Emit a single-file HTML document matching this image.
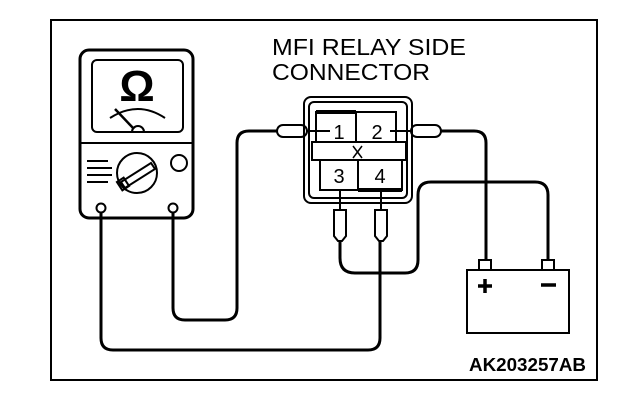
<!DOCTYPE html>
<html><head><meta charset="utf-8"><style>html,body{margin:0;padding:0;background:#fff}svg{display:block}</style></head>
<body>
<svg width="624" height="410" viewBox="0 0 624 410" xmlns="http://www.w3.org/2000/svg" font-family="Liberation Sans, sans-serif">
<rect x="51" y="20" width="546" height="360" fill="none" stroke="#000" stroke-width="2"/>
<text x="272" y="55" font-size="23" textLength="194" lengthAdjust="spacingAndGlyphs">MFI RELAY SIDE</text>
<text x="272" y="80" font-size="23" textLength="158" lengthAdjust="spacingAndGlyphs">CONNECTOR</text>
<text x="469" y="371" font-size="18" font-weight="bold" textLength="117" lengthAdjust="spacingAndGlyphs">AK203257AB</text>

<g fill="none" stroke="#000" stroke-width="3">
<!-- wires -->
<path d="M101,213 V338 Q101,350 113,350 H368 Q380,350 380,338 V240"/>
<path d="M173,213 V308 Q173,320 185,320 H225 Q237,320 237,308 V143 Q237,131 249,131 H277"/>
<path d="M441,131 H474 Q486,131 486,143 V260"/>
<path d="M340,240 V258 Q340,273 355,273 H405 Q418,273 418,260 V195 Q418,182 431,182 H535 Q548,182 548,195 V260"/>
<!-- meter -->
<rect x="80" y="50" width="113" height="168" rx="9"/>
</g>
<g fill="none" stroke="#000" stroke-width="2">
<rect x="92" y="60" width="91" height="72" rx="5"/>
<line x1="80" y1="143" x2="193" y2="143"/>
<path d="M110,118 Q138,100 165,118"/>
<line x1="115" y1="109" x2="134" y2="129" stroke-width="2.5"/>
<path d="M132,132 A6,6 0 0 1 144,132"/>
<circle cx="137" cy="173" r="20"/>
<circle cx="179" cy="163" r="8"/>
<circle cx="101" cy="208" r="4.5"/>
<circle cx="173" cy="208" r="4.5"/>
<path d="M87,161 H108 M87,168 H112 M87,175 H112 M87,182 H108"/>
<path d="M121,182 L151,163 L155,169 L125,188 Z"/>
<rect x="119" y="179" width="8" height="10" transform="rotate(-33 123 184)"/>
</g>
<text x="137" y="101" font-size="44" font-weight="bold" text-anchor="middle">Ω</text>

<!-- connector -->
<g fill="none" stroke="#000" stroke-width="2">
<rect x="304" y="97" width="108" height="106" rx="7"/>
<rect x="309" y="102" width="98" height="96" rx="5"/>
<rect x="316" y="112" width="80" height="30"/>
<line x1="356" y1="112" x2="356" y2="142"/>
<rect x="312" y="142" width="94" height="18"/>
<rect x="320" y="160" width="82" height="30"/>
<line x1="358" y1="160" x2="358" y2="190"/>
<path d="M353,146 L362,158 M362,146 L353,158" stroke-width="1.5"/>
<rect x="277" y="125" width="30" height="12" rx="6"/>
<rect x="411" y="125" width="30" height="12" rx="6"/>
<path d="M334,210 V236 L338,241 H342 L346,236 V210 Z"/>
<path d="M375,210 V236 L379,241 H383 L387,236 V210 Z"/>
<path d="M340,190 V210 M381,190 V210 M307,131 H330 M390,131 H411"/>
<!-- battery -->
<rect x="467" y="270" width="102" height="63"/>
<rect x="479" y="260" width="12" height="10"/>
<rect x="542" y="260" width="12" height="10"/>
</g>
<path d="M316,112 H356" stroke="#000" stroke-width="4"/>
<path d="M358,190 H402" stroke="#000" stroke-width="4"/>
<g font-size="20" text-anchor="middle">
<text x="339" y="139">1</text><text x="377" y="139">2</text>
<text x="339" y="183">3</text><text x="380" y="183">4</text>
</g>
<path d="M478,286 H492 M485,279 V293 M541,285 H556" stroke="#000" stroke-width="3.5"/>
</svg>
</body></html>
